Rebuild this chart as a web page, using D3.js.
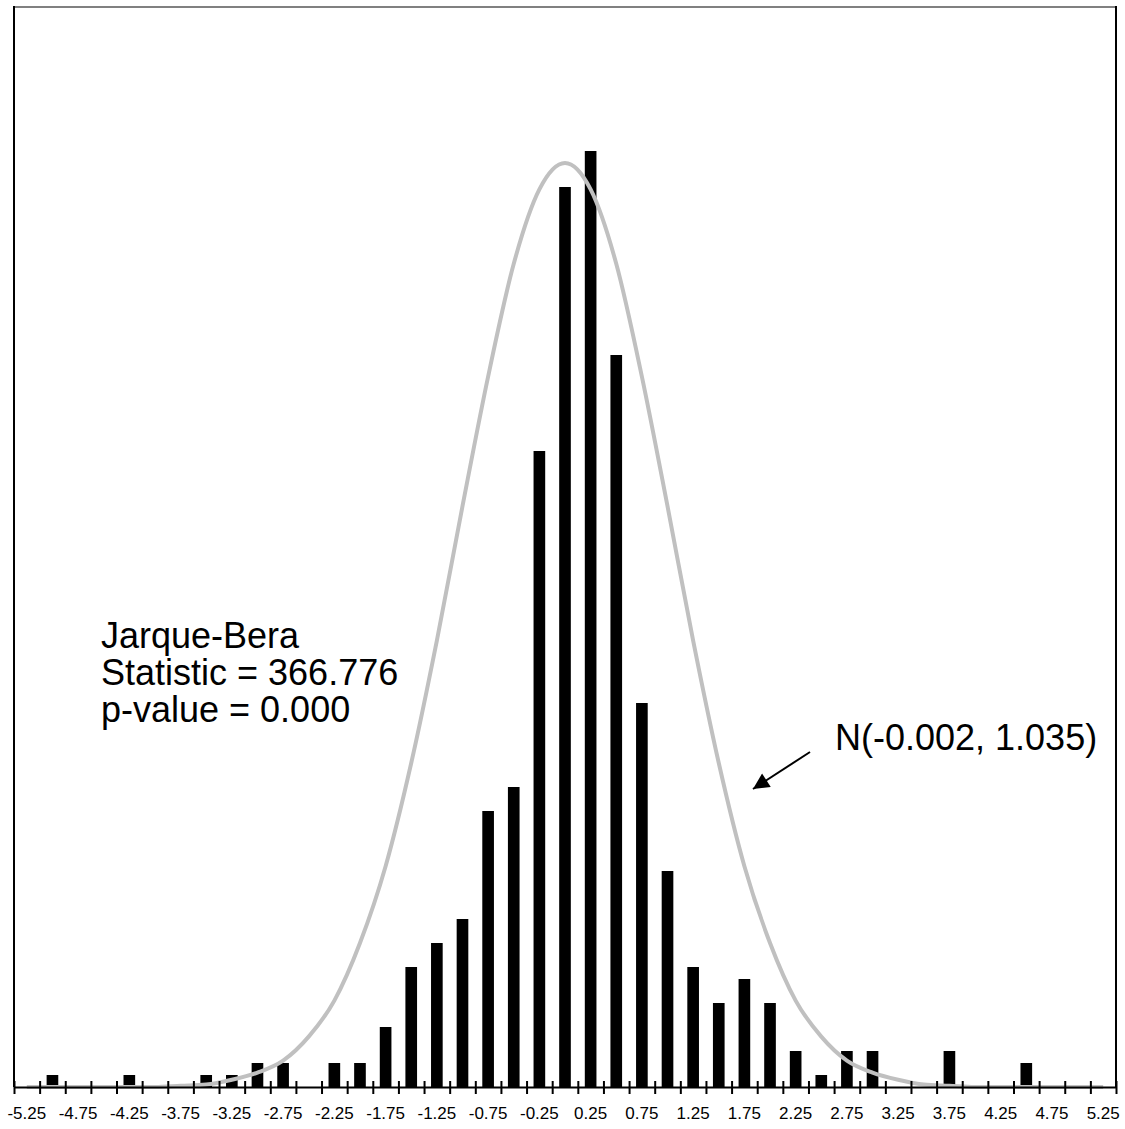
<!DOCTYPE html>
<html>
<head>
<meta charset="utf-8">
<script src="https://cdn.jsdelivr.net/npm/d3@7"></script>
<style>
  html, body { margin: 0; padding: 0; background: #fff; }
  text { font-family: "Liberation Sans", Arial, sans-serif; }
</style>
</head>
<body>
<div id="chart"></div>
<script>
// --- Dados ---
// Centros das classes (largura 0.25)
const categories = d3.range(-5.25, 5.2501, 0.25).map(v => +v.toFixed(2));

// Frequências do histograma (eixo principal)
const counts = [
  0, 1, 0, 0, 1, 0, 0, 1, 1, 2, 2, 0, 2, 2, 5, 10, 12, 14, 23, 25, 53,
  75, 78, 61, 32, 18, 10, 7, 9, 7, 3, 1, 3, 3, 0, 0, 3, 0, 0, 2, 0, 0, 0
];

// Curva normal ajustada (eixo secundário, densidade) nos mesmos centros
const density = [
  0, 0, 0, 0, 0, 0, 0.0005, 0.001, 0.003, 0.006, 0.011, 0.021, 0.036, 0.060,
  0.092, 0.135, 0.186, 0.242, 0.296, 0.343, 0.374, 0.385, 0.374, 0.343,
  0.296, 0.242, 0.186, 0.135, 0.092, 0.060, 0.036, 0.021, 0.011, 0.006,
  0.003, 0.001, 0.0005, 0, 0, 0, 0, 0, 0
];

// Rótulos do eixo x (um sim, um não)
const tickLabels = categories.filter((d, i) => i % 2 === 0);

const statsLines = ["Jarque-Bera", "Statistic = 366.776", "p-value = 0.000"];
const curveLabel = "N(-0.002, 1.035)";

// --- Configuração D3 ---
const width = 1125, height = 1129;
const plotLeft = 14, plotRight = 1116, plotTop = 7, plotBottom = 1087;

const svg = d3.select("#chart").append("svg")
  .attr("width", width)
  .attr("height", height)
  .attr("viewBox", [0, 0, width, height]);

const x = d3.scaleBand()
  .domain(categories)
  .range([plotLeft, plotRight])
  .paddingInner(1.2 / 2.2)
  .paddingOuter(0.6 / 2.2);

// escala contínua para a curva: centro da classe -> pixel
const xLin = d3.scaleLinear([-5.375, 5.375], [plotLeft, plotRight]);

const y = d3.scaleLinear([0, 90], [plotBottom, plotTop]);
const y2 = d3.scaleLinear([0, 0.45], [plotBottom, plotTop]);

// borda superior (cinzenta)
svg.append("line")
  .attr("x1", plotLeft).attr("x2", plotRight)
  .attr("y1", plotTop).attr("y2", plotTop)
  .attr("stroke", "#808080").attr("stroke-width", 2);

// barras
svg.append("g")
  .selectAll("rect")
  .data(categories.map((c, i) => ({c, n: counts[i]})).filter(d => d.n > 0))
  .join("rect")
  .attr("x", d => x(d.c))
  .attr("width", x.bandwidth())
  .attr("y", d => y(d.n))
  .attr("height", d => y(0) - y(d.n))
  .attr("fill", "#000");

// curva normal
const line = d3.line()
  .x((d, i) => xLin(categories[i]))
  .y(d => y2(d))
  .curve(d3.curveMonotoneX);

svg.append("path")
  .datum(density)
  .attr("d", line)
  .attr("fill", "none")
  .attr("stroke", "#c0c0c0")
  .attr("stroke-width", 4);

// eixos verticais (sem marcas)
svg.append("line")
  .attr("x1", plotLeft).attr("x2", plotLeft).attr("y1", plotTop - 1).attr("y2", plotBottom)
  .attr("stroke", "#000").attr("stroke-width", 2);
svg.append("line")
  .attr("x1", plotRight).attr("x2", plotRight).attr("y1", plotTop - 1).attr("y2", plotBottom)
  .attr("stroke", "#000").attr("stroke-width", 2);

// eixo x: marcas cruzadas nos limites das classes
const boundaries = d3.range(0, categories.length + 1).map(k => -5.375 + 0.25 * k);
const xAxis = svg.append("g")
  .attr("transform", `translate(0,${plotBottom})`)
  .call(d3.axisBottom(xLin).tickValues(boundaries).tickSizeOuter(0).tickFormat(""));
xAxis.select(".domain").attr("stroke", "#000").attr("stroke-width", 2);
xAxis.selectAll(".tick line")
  .attr("y1", -6).attr("y2", 7)
  .attr("stroke", "#000").attr("stroke-width", 2);
xAxis.selectAll(".tick text").remove();

// rótulos do eixo x
svg.append("g")
  .selectAll("text")
  .data(tickLabels)
  .join("text")
  .attr("x", d => xLin(d))
  .attr("y", 1119)
  .attr("text-anchor", "middle")
  .attr("font-size", 17)
  .attr("fill", "#000")
  .text(d => d.toFixed(2));

// texto Jarque-Bera
svg.append("g")
  .selectAll("text")
  .data(statsLines)
  .join("text")
  .attr("x", 101)
  .attr("y", (d, i) => 648 + i * 37)
  .attr("font-size", 36)
  .attr("fill", "#000")
  .text(d => d);

// rótulo da curva e seta
svg.append("text")
  .attr("x", 835)
  .attr("y", 750)
  .attr("font-size", 36)
  .attr("fill", "#000")
  .text(curveLabel);

svg.append("defs").append("marker")
  .attr("id", "arrow")
  .attr("viewBox", "0 0 10 10")
  .attr("refX", 10).attr("refY", 5)
  .attr("markerWidth", 22).attr("markerHeight", 16)
  .attr("markerUnits", "userSpaceOnUse")
  .attr("orient", "auto")
  .append("path")
  .attr("d", "M0,0L10,5L0,10Z")
  .attr("fill", "#000");

svg.append("line")
  .attr("x1", 810).attr("y1", 752)
  .attr("x2", 753).attr("y2", 789)
  .attr("stroke", "#000").attr("stroke-width", 2)
  .attr("marker-end", "url(#arrow)");
</script>
</body>
</html>
